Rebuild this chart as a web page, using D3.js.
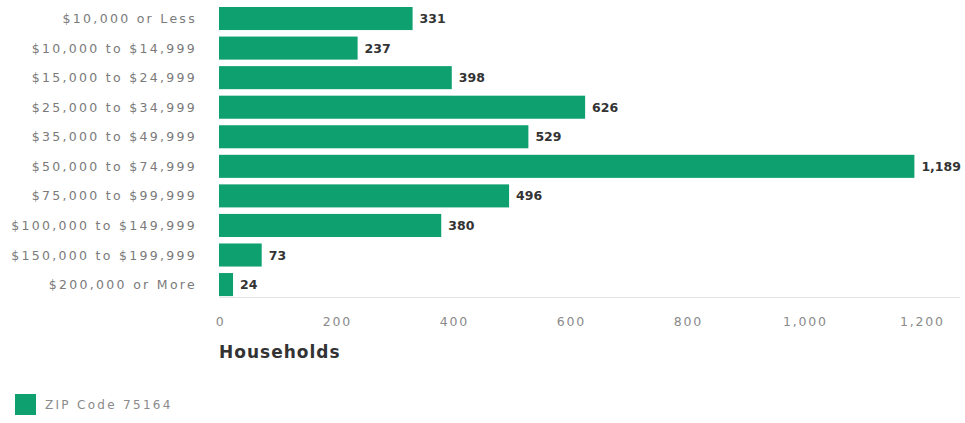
<!DOCTYPE html>
<html>
<head>
<meta charset="utf-8">
<script src="https://cdn.jsdelivr.net/npm/d3@7"></script>
<style>
  body { margin: 0; background: #fff; }
  .cat-label { font-family: "DejaVu Sans", sans-serif; font-size: 12.5px; fill: #7a7a7a; letter-spacing: 2.3px; }
  .val-label { font-family: "DejaVu Sans", sans-serif; font-size: 12.5px; font-weight: bold; fill: #333; }
  .tick-label { font-family: "DejaVu Sans", sans-serif; font-size: 12.5px; fill: #8a8a8a; letter-spacing: 1.8px; }
</style>
</head>
<body>
<svg id="chart" width="965" height="423"></svg>
<script>
const categories = [
  "$10,000 or Less",
  "$10,000 to $14,999",
  "$15,000 to $24,999",
  "$25,000 to $34,999",
  "$35,000 to $49,999",
  "$50,000 to $74,999",
  "$75,000 to $99,999",
  "$100,000 to $149,999",
  "$150,000 to $199,999",
  "$200,000 or More"
];
const households = [331, 237, 398, 626, 529, 1189, 496, 380, 73, 24];
const tickValues = [0, 200, 400, 600, 800, 1000, 1200];
const seriesName = "ZIP Code 75164";
const axisTitle = "Households";

const green = "#0fa06f";

// plot area
const plotLeft = 219;
const plotRight = 960;
const plotTop = 3.75;
const plotBottom = 299.35;

const svg = d3.select("#chart");

const x = d3.scaleLinear().domain([0, 1267]).range([plotLeft, plotRight]);
const y = d3.scaleBand()
  .domain(categories)
  .range([plotTop, plotBottom])
  .paddingInner(0.22)
  .paddingOuter(0.11);

//axis line
svg.append("line")
  .attr("x1", plotLeft)
  .attr("x2", plotRight)
  .attr("y1", 297.5)
  .attr("y2", 297.5)
  .attr("stroke", "#e3e3e3")
  .attr("stroke-width", 1);

//bars
svg.selectAll("rect.bar")
  .data(households)
  .join("rect")
  .attr("class", "bar")
  .attr("x", x(0))
  .attr("y", (d, i) => y(categories[i]))
  .attr("width", (d) => x(d) - x(0))
  .attr("height", y.bandwidth())
  .style("fill", green);

//value labels
svg.selectAll("text.val-label")
  .data(households)
  .join("text")
  .attr("class", "val-label")
  .attr("x", (d) => x(d) + 7)
  .attr("y", (d, i) => y(categories[i]) + y.bandwidth() / 2)
  .attr("dy", "0.36em")
  .text((d) => d3.format(",")(d));

//category labels
svg.selectAll("text.cat-label")
  .data(categories)
  .join("text")
  .attr("class", "cat-label")
  .attr("x", 197)
  .attr("y", (d) => y(d) + y.bandwidth() / 2)
  .attr("dy", "0.36em")
  .attr("text-anchor", "end")
  .text((d) => d);

//x ticks
const xAxis = d3.axisBottom(x)
  .tickValues(tickValues)
  .tickSize(0)
  .tickPadding(0)
  .tickFormat(d3.format(","));

const gx = svg.append("g")
  .attr("transform", "translate(1,317)")
  .call(xAxis);
gx.select(".domain").remove();
gx.selectAll("text")
  .attr("class", "tick-label")
  .attr("fill", null)
  .attr("font-family", null)
  .attr("font-size", null);

//axis title
svg.append("text")
  .attr("x", plotLeft)
  .attr("y", 358)
  .style("font-family", "'DejaVu Sans', sans-serif")
  .style("font-size", "17px")
  .style("font-weight", "bold")
  .style("fill", "#333")
  .style("letter-spacing", "1px")
  .text(axisTitle);

//legend
svg.append("rect")
  .attr("x", 15)
  .attr("y", 394)
  .attr("width", 21)
  .attr("height", 21)
  .style("fill", green);

svg.append("text")
  .attr("x", 45)
  .attr("y", 409)
  .style("font-family", "'DejaVu Sans', sans-serif")
  .style("font-size", "12px")
  .style("fill", "#8a8a8a")
  .style("letter-spacing", "2.3px")
  .text(seriesName);
</script>
</body>
</html>
